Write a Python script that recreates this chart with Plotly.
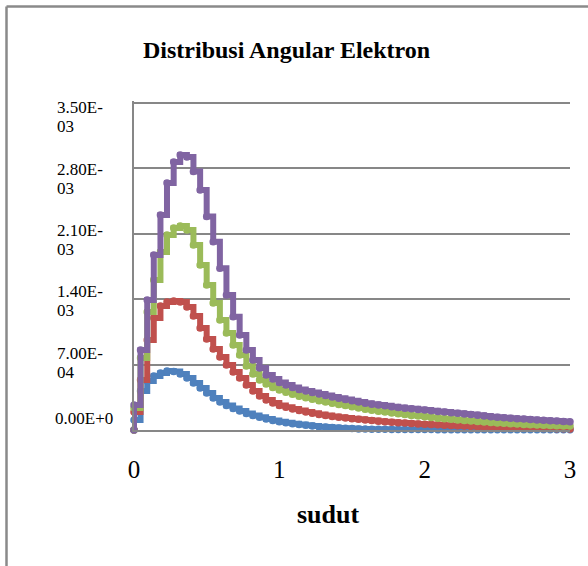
import plotly.graph_objects as go

# ---------------- data ----------------
# angle (sudut); first point duplicated at 0 so every curve starts from zero
sudut = [0, 0, 0.045, 0.091, 0.136, 0.182, 0.227, 0.273, 0.318, 0.364, 0.409,
         0.455, 0.5, 0.545, 0.591, 0.636, 0.682, 0.727, 0.773, 0.818, 0.864,
         0.909, 0.955, 1.0, 1.045, 1.091, 1.136, 1.182, 1.227, 1.273, 1.318,
         1.364, 1.409, 1.455, 1.5, 1.545, 1.591, 1.636, 1.682, 1.727, 1.773,
         1.818, 1.864, 1.909, 1.955, 2.0, 2.045, 2.091, 2.136, 2.182, 2.227,
         2.273, 2.318, 2.364, 2.409, 2.455, 2.5, 2.545, 2.591, 2.636, 2.682,
         2.727, 2.773, 2.818, 2.864, 2.909, 2.955, 3.0]

# values in units of 1e-3
seri_biru = [0, 0.107, 0.417, 0.524, 0.578, 0.610, 0.631, 0.626, 0.599, 0.557, 0.503,
             0.449, 0.396, 0.342, 0.300, 0.262, 0.230, 0.203, 0.177, 0.155, 0.136,
             0.118, 0.102, 0.089, 0.077, 0.066, 0.058, 0.050, 0.043, 0.036, 0.031,
             0.026, 0.021, 0.018, 0.015, 0.012, 0.010, 0.009, 0.008, 0.007, 0.0065,
             0.006, 0.0055, 0.005, 0.0048, 0.0045, 0.0043, 0.004, 0.0038, 0.0036, 0.0034,
             0.0032, 0.003, 0.0029, 0.0028, 0.0027, 0.0026, 0.0025, 0.0024, 0.0023, 0.0022,
             0.0021, 0.002, 0.0019, 0.0018, 0.0017, 0.0016, 0.0015]

seri_merah = [0, 0.193, 0.535, 0.963, 1.199, 1.327, 1.370, 1.381, 1.370, 1.316, 1.220,
              1.092, 0.974, 0.867, 0.781, 0.696, 0.621, 0.557, 0.482, 0.417, 0.364,
              0.321, 0.289, 0.262, 0.243, 0.225, 0.209, 0.193, 0.179, 0.166, 0.155,
              0.144, 0.136, 0.128, 0.121, 0.114, 0.107, 0.101, 0.094, 0.089, 0.083,
              0.078, 0.074, 0.070, 0.065, 0.062, 0.059, 0.056, 0.052, 0.049, 0.046,
              0.043, 0.040, 0.036, 0.034, 0.032, 0.030, 0.028, 0.026, 0.024, 0.021,
              0.019, 0.018, 0.016, 0.015, 0.014, 0.013, 0.012]

seri_hijau = [0, 0.235, 0.770, 1.263, 1.605, 1.905, 2.087, 2.161, 2.183, 2.140, 1.980,
              1.766, 1.552, 1.359, 1.177, 1.038, 0.910, 0.803, 0.685, 0.599, 0.535,
              0.492, 0.455, 0.428, 0.404, 0.382, 0.362, 0.345, 0.328, 0.314, 0.300,
              0.287, 0.274, 0.262, 0.249, 0.235, 0.223, 0.212, 0.201, 0.192, 0.182,
              0.173, 0.165, 0.156, 0.149, 0.141, 0.134, 0.127, 0.121, 0.114, 0.108,
              0.102, 0.096, 0.091, 0.086, 0.080, 0.076, 0.072, 0.067, 0.063, 0.060,
              0.057, 0.054, 0.050, 0.048, 0.046, 0.044, 0.042]

seri_ungu = [0, 0.268, 0.856, 1.391, 1.873, 2.301, 2.643, 2.868, 2.943, 2.922, 2.765,
             2.569, 2.283, 2.015, 1.731, 1.445, 1.213, 1.017, 0.856, 0.749, 0.664,
             0.589, 0.546, 0.508, 0.482, 0.455, 0.433, 0.417, 0.401, 0.385, 0.369,
             0.353, 0.340, 0.326, 0.314, 0.300, 0.287, 0.276, 0.268, 0.259, 0.250,
             0.242, 0.234, 0.227, 0.220, 0.214, 0.207, 0.199, 0.193, 0.185, 0.179,
             0.171, 0.165, 0.157, 0.150, 0.142, 0.137, 0.132, 0.126, 0.121, 0.117,
             0.112, 0.108, 0.104, 0.100, 0.095, 0.091, 0.088]

y_tick_vals = [0.0035, 0.0028, 0.0021, 0.0014, 0.0007, 0.0]
y_tick_line1 = ["3.50E-", "2.80E-", "2.10E-", "1.40E-", "7.00E-", "0.00E+0"]
y_tick_line2 = ["03", "03", "03", "03", "04", ""]
x_tick_vals = [0, 1, 2, 3]
x_tick_text = ["0", "1", "2", "3"]

judul = "Distribusi Angular Elektron"
judul_x = "sudut"

# ---------------- layout constants ----------------
W, H = 588, 566
Y_TOP = 0.00352                 # a little headroom so the 3.50E-03 gridline is drawn
PL, PR, PB = 134, 570, 430
PT = PB - 327.5 * Y_TOP / 0.0035   # keeps 3.50E-03 at pixel 102.5
SERIF = "Liberation Serif, Times New Roman, serif"
GRID = "#878787"

def px2x(px):
    return (px - PL) / (PR - PL)

def py2y(py):
    return (PB - py) / (PB - PT)

series = [
    (seri_biru, "#4F81BD"),
    (seri_merah, "#C0504D"),
    (seri_hijau, "#9BBB59"),
    (seri_ungu, "#8064A2"),
]

fig = go.Figure()
for vals, col in series:
    fig.add_trace(go.Scatter(
        x=sudut, y=[v * 1e-3 for v in vals],
        mode="lines+markers",
        line=dict(color=col, width=6, shape="hv"),
        marker=dict(color=col, size=7.5),
        cliponaxis=False,
        showlegend=False,
        hoverinfo="skip",
    ))

annotations = []
# y tick labels (two wrapped lines, left aligned, as in the reference)
line1_py = [107, 169, 230, 291.5, 353, 418.5]
line2_py = [126, 188, 249, 310.5, 372, None]
lab_left = [56, 56, 56, 56, 56, 53.5]
for t1, t2, p1, p2, lx in zip(y_tick_line1, y_tick_line2, line1_py, line2_py, lab_left):
    annotations.append(dict(text=t1, xref="paper", yref="paper", x=px2x(lx), y=py2y(p1),
                            xanchor="left", yanchor="middle", showarrow=False, borderpad=0,
                            font=dict(family=SERIF, size=17, color="black")))
    if t2:
        annotations.append(dict(text=t2, xref="paper", yref="paper", x=px2x(lx), y=py2y(p2),
                                xanchor="left", yanchor="middle", showarrow=False, borderpad=0,
                                font=dict(family=SERIF, size=17, color="black")))

annotations.append(dict(text="<b>%s</b>" % judul, xref="paper", yref="paper",
                        x=px2x(286), y=py2y(50), xanchor="center", yanchor="middle",
                        showarrow=False, font=dict(family=SERIF, size=24, color="black")))
annotations.append(dict(text="<b>%s</b>" % judul_x, xref="paper", yref="paper",
                        x=px2x(328), y=py2y(515), xanchor="center", yanchor="middle",
                        showarrow=False, font=dict(family=SERIF, size=26, color="black")))

frame = dict(color="#8a8a8a", width=2.5)
shapes = [
    dict(type="line", xref="paper", yref="paper", layer="above",
         x0=px2x(6.5), x1=px2x(600), y0=py2y(6), y1=py2y(6), line=frame),
    dict(type="line", xref="paper", yref="paper", layer="above",
         x0=px2x(6.5), x1=px2x(6.5), y0=py2y(6), y1=py2y(600), line=frame),
]

fig.update_layout(
    width=W, height=H,
    margin=dict(l=PL, r=W - PR, t=PT, b=H - PB, pad=0),
    paper_bgcolor="white", plot_bgcolor="white",
    annotations=annotations, shapes=shapes,
    xaxis=dict(range=[0, 3], tickvals=x_tick_vals, ticktext=x_tick_text,
               showgrid=False, zeroline=False, showline=True, linecolor=GRID,
               linewidth=1.5, ticks="", ticklabelstandoff=16,
               tickfont=dict(family=SERIF, size=25, color="black")),
    yaxis=dict(range=[0, Y_TOP], tickvals=y_tick_vals, showticklabels=False,
               showgrid=True, gridcolor=GRID, gridwidth=1.5, zeroline=False,
               showline=True, linecolor=GRID, linewidth=1.5, ticks=""),
)

fig.write_html("out.html", config={"displayModeBar": False},
               post_script="document.body.style.margin='0';document.body.style.overflow='hidden';")
